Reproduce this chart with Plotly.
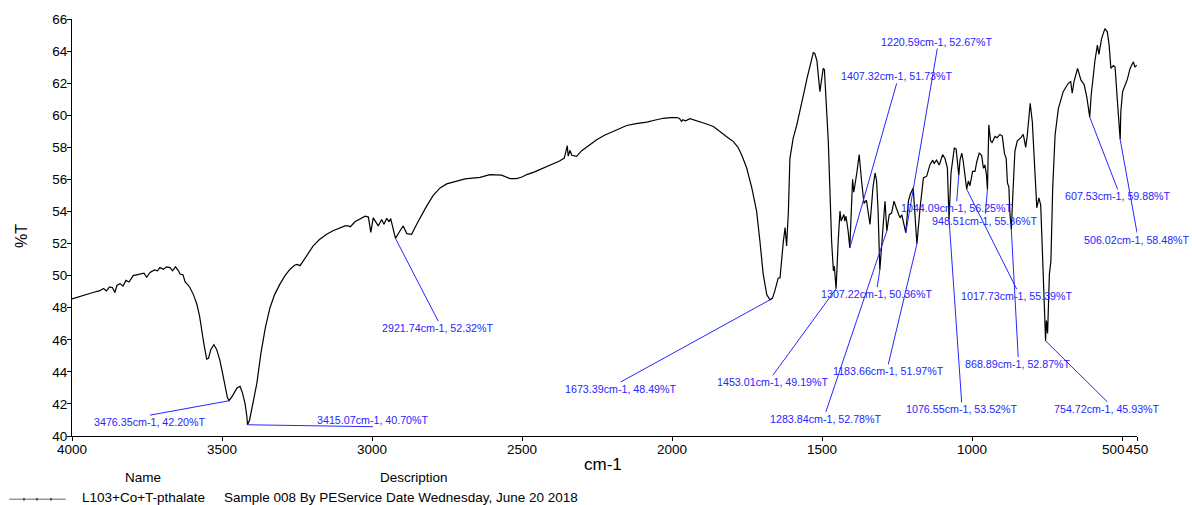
import plotly.graph_objects as go

# ---------------- data ----------------
wavenumber = [
    4000, 3960, 3930, 3907, 3895, 3885, 3875, 3865, 3857, 3850, 3840, 3830, 3820, 3810,
    3796, 3785, 3770, 3760, 3751, 3740, 3725, 3715, 3707, 3695, 3685, 3673, 3665, 3655,
    3645, 3640, 3630, 3623, 3615, 3607, 3595, 3584, 3575, 3568, 3560, 3551, 3545, 3537,
    3527, 3518, 3507, 3498, 3490, 3482, 3476.35, 3465, 3450, 3440, 3432, 3423, 3417,
    3415.07, 3408, 3398, 3384, 3370, 3355, 3340, 3325, 3307, 3290, 3273, 3258, 3250,
    3240, 3229, 3215, 3196, 3175, 3151, 3130, 3107, 3090, 3079, 3072, 3057, 3040, 3023,
    3012, 3004, 2996, 2987, 2979, 2968, 2960, 2951, 2943, 2938, 2929, 2921.74, 2907,
    2896, 2884, 2868, 2851, 2834, 2818, 2796, 2773, 2751, 2725, 2707, 2690, 2665, 2640,
    2607, 2585, 2568, 2540, 2518, 2500, 2484, 2460, 2440, 2420, 2396, 2375, 2359, 2355,
    2349, 2346, 2340, 2334, 2318, 2301, 2275, 2251, 2225, 2196, 2170, 2151, 2120, 2084,
    2055, 2029, 2005, 1984, 1975, 1968, 1964, 1955, 1940, 1925, 1907, 1885, 1862, 1845,
    1829, 1810, 1796, 1780, 1768, 1751, 1734, 1718, 1707, 1696, 1684, 1673.39, 1665,
    1657, 1646, 1640, 1629, 1623, 1618, 1612, 1607, 1601, 1596, 1584, 1568, 1557, 1550,
    1540, 1529, 1524, 1517, 1507, 1500, 1496, 1492, 1485, 1479, 1468, 1462, 1459,
    1453.01, 1446, 1440, 1436, 1427, 1424, 1420, 1413, 1407.32, 1398, 1394, 1384, 1376,
    1368, 1360, 1352, 1340, 1330, 1323, 1318, 1313, 1307.22, 1301, 1290, 1283.84, 1276,
    1268, 1260, 1252, 1245, 1240, 1234, 1228, 1220.59, 1212, 1205, 1196, 1190, 1183.66,
    1173, 1162, 1151, 1145, 1140, 1131, 1126, 1118, 1109, 1098, 1090, 1082, 1076.55,
    1070, 1059, 1053, 1048, 1044.09, 1040, 1034, 1029, 1024, 1017.73, 1012, 1007, 998,
    990, 984, 976, 968, 962, 957, 952, 948.51, 944, 938, 933, 923, 916, 907, 899, 892,
    886, 882, 877, 874, 868.89, 864, 857, 849, 837, 829, 821, 816, 810, 806, 799, 790,
    784, 777, 771, 765, 759, 754.72, 752, 748, 742, 737, 731, 723, 712, 696, 679, 671,
    666, 660, 648, 637, 626, 617, 607.53, 603, 590, 582, 577, 568, 557, 549, 543, 537,
    529, 523, 516, 506.02, 504, 498, 490, 482, 473, 462, 457, 451,
]
transmittance = [
    48.55, 48.8, 48.95, 49.06, 49.2, 49.05, 49.3, 49.25, 48.95, 49.4, 49.5, 49.35, 49.7, 49.6,
    50.0, 50.05, 50.1, 50.15, 49.9, 50.2, 50.35, 50.3, 50.5, 50.4, 50.55, 50.5, 50.3, 50.55,
    50.3, 50.1, 50.05, 49.6, 49.45, 49.26, 48.8, 48.23, 47.5, 46.58, 45.7, 44.8, 44.85, 45.4,
    45.7, 45.4, 44.72, 43.9, 43.1, 42.4, 42.20, 42.5, 43.0, 43.1, 42.7, 42.0, 41.2,
    40.70, 41.0, 42.0, 43.27, 45.2, 46.8, 48.0, 48.8, 49.47, 50.0, 50.4, 50.65, 50.7,
    50.62, 50.92, 51.35, 51.85, 52.25, 52.58, 52.8, 52.99, 53.1, 53.1, 53.05, 53.36, 53.55, 53.71,
    53.65, 52.7, 53.6, 53.35, 53.1, 53.5, 53.2, 53.57, 53.35, 53.57, 52.9, 52.32, 52.78,
    53.1, 52.62, 52.58, 53.2, 53.82, 54.33, 55.0, 55.47, 55.72, 55.85, 55.9, 56.03, 56.08, 56.13,
    56.3, 56.3, 56.26, 56.05, 56.05, 56.15, 56.3, 56.45, 56.61, 56.8, 56.96, 57.15, 57.33, 57.7,
    58.1, 57.45, 57.8, 57.5, 57.44, 57.79, 58.15, 58.47, 58.75, 58.99, 59.2, 59.36, 59.48, 59.57,
    59.7, 59.81, 59.85, 59.86, 59.8, 59.61, 59.72, 59.65, 59.78, 59.7, 59.61, 59.45, 59.3, 59.05,
    58.78, 58.55, 58.37, 58.0, 57.54, 56.71, 55.47, 54.02, 52.16, 50.09, 48.8, 48.49, 48.6,
    49.06, 49.85, 49.85, 52.1, 53.0, 51.85, 54.0, 57.3, 57.9, 58.57, 59.4, 60.64, 61.68, 62.3,
    63.13, 63.9, 63.85, 63.4, 61.47, 62.5, 62.92, 62.85, 60.5, 58.37, 52.16, 50.3, 50.6,
    49.19, 52.16, 54.02, 53.4, 53.82, 53.4, 53.7, 52.8, 51.73, 56.0, 55.2, 56.4, 57.54,
    55.88, 54.5, 54.7, 53.2, 55.5, 56.4, 55.9, 54.0, 50.36, 51.9, 54.64, 52.78, 53.8,
    53.9, 54.64, 54.2, 53.9, 53.6, 53.8, 53.2, 52.67, 54.64, 55.1, 55.47, 54.0, 51.97,
    54.23, 56.09, 56.2, 56.6, 56.92, 57.2, 57.0, 57.2, 56.9, 57.54, 57.3, 56.7, 53.52,
    56.4, 57.95, 57.9, 57.0, 56.25, 57.2, 57.64, 57.1, 56.3, 55.39, 55.9, 55.6, 56.5,
    56.5, 57.1, 57.64, 57.5, 56.7, 56.9, 56.3, 55.36, 59.4, 58.4, 58.3, 58.68, 58.6, 58.8, 58.7, 57.64,
    57.3, 55.8, 55.5, 54.0, 52.87, 55.0, 57.75, 58.4, 58.6, 58.8, 58.0, 58.7, 60.02, 60.75, 59.6, 56.3,
    54.23, 54.85, 54.4, 51.33, 47.2, 45.93, 47.2, 46.4, 50.1, 50.9, 55.47, 58.78, 60.43, 61.47, 61.99, 62.1,
    61.37, 62.1, 62.92, 62.2, 61.9, 61.1, 59.88, 61.2, 63.43, 64.37, 63.8, 64.78, 65.4, 65.2, 64.4, 62.92,
    63.1, 63.0, 61.06, 58.48, 60.2, 61.47, 61.85, 62.25, 62.92, 63.33, 63.0, 63.12,
]

peak_wn = [3476.35, 3415.07, 2921.74, 1673.39, 1453.01, 1407.32, 1220.59, 1307.22, 1283.84,
           1183.66, 1076.55, 1044.09, 948.51, 1017.73, 868.89, 754.72, 607.53, 506.02]
peak_t = [42.20, 40.70, 52.32, 48.49, 49.19, 51.73, 52.67, 50.36, 52.78,
          51.97, 53.52, 56.25, 55.36, 55.39, 52.87, 45.93, 59.88, 58.48]

x_tick_vals = [4000, 3500, 3000, 2500, 2000, 1500, 1000, 500, 450]
x_tick_text = ["4000", "3500", "3000", "2500", "2000", "1500", "1000", "", "450"]
y_tick_vals = list(range(40, 67, 2))

sample_name = "L103+Co+T-pthalate"
sample_desc = "Sample 008 By PEService Date Wednesday, June 20 2018"

# ---------------- layout helpers (label placement) ----------------
label_pos = [
    (3740, 41.30, "top"), (2996.7, 40.58, "bottom"), (2779, 47.15, "top"),
    (2171, 43.37, "top"), (1664, 43.78, "top"), (1251, 61.99, "bottom"),
    (1115.6, 64.16, "bottom"), (1316, 49.28, "top"), (1487, 41.51, "top"),
    (1279, 44.47, "top"), (1034.4, 42.09, "top"), (1051, 54.64, "top"),
    (955.6, 53.86, "top"), (851, 49.16, "top"), (846, 44.92, "top"),
    (549, 42.13, "top"), (514.4, 55.37, "top"), (450, 52.68, "top"),
]

FONT = "Liberation Sans, Arial, sans-serif"
BLUE = "#2626ff"

fig = go.Figure()
fig.add_trace(go.Scatter(x=wavenumber, y=transmittance, mode="lines",
                         line=dict(color="black", width=1.2), showlegend=False,
                         hoverinfo="skip"))

shapes = []
annotations = []
for wn, t, (lx, ly, anc) in zip(peak_wn, peak_t, label_pos):
    shapes.append(dict(type="line", xref="x", yref="y", x0=wn, y0=t, x1=lx, y1=ly,
                       line=dict(color=BLUE, width=1)))
    annotations.append(dict(xref="x", yref="y", x=lx, y=ly, xanchor="center", yanchor=anc,
                            text=f"{wn:.2f}cm-1, {t:.2f}%T", showarrow=False,
                            font=dict(family=FONT, size=10.7, color=BLUE), borderpad=0))

# "500" tick label placed just left of "450"
annotations.append(dict(xref="x", yref="paper", x=450, y=0, xanchor="right", yanchor="middle",
                        xshift=-11.3, yshift=-13, text="500", showarrow=False,
                        font=dict(family=FONT, size=13.5, color="black"), borderpad=0))
# axis titles
annotations.append(dict(xref="paper", yref="paper", x=0.4986, y=-0.0692, xanchor="center",
                        yanchor="middle", text="cm-1", showarrow=False,
                        font=dict(family=FONT, size=17, color="black")))
annotations.append(dict(xref="paper", yref="paper", x=-0.0470, y=0.4797, xanchor="center",
                        yanchor="middle", text="%T", textangle=-90, showarrow=False,
                        font=dict(family=FONT, size=16, color="black")))
# legend block
for txt, x, y, xa in [("Name", 0.0667, -0.1002, "center"),
                      ("Description", 0.3211, -0.1002, "center"),
                      (sample_name, 0.0075, -0.148, "left"),
                      (sample_desc, 0.1406, -0.148, "left")]:
    annotations.append(dict(xref="paper", yref="paper", x=x, y=y, xanchor=xa, yanchor="middle",
                            text=txt, showarrow=False,
                            font=dict(family=FONT, size=13.5, color="black")))
LEG_Y = -0.1515
shapes.append(dict(type="line", xref="paper", yref="paper", x0=-0.0589, x1=-0.0059,
                   y0=LEG_Y, y1=LEG_Y, line=dict(color="#666666", width=1)))
for xm in (-0.0451, -0.0329, -0.0197):
    shapes.append(dict(type="line", xref="paper", yref="paper", x0=xm, x1=xm,
                       y0=LEG_Y - 0.003, y1=LEG_Y + 0.003, line=dict(color="#333333", width=1.5)))

axis_common = dict(showline=True, linecolor="black", linewidth=1, ticks="outside",
                   ticklen=4, tickcolor="black", tickwidth=1, showgrid=False,
                   zeroline=False, tickfont=dict(family=FONT, size=13.5, color="black"))

fig.update_layout(
    width=1192, height=505,
    margin=dict(l=72, r=55, t=17, b=69),
    paper_bgcolor="white", plot_bgcolor="white",
    xaxis=dict(range=[4000, 450], tickmode="array", tickvals=x_tick_vals,
               ticktext=x_tick_text, ticklabelstandoff=-3, **axis_common),
    yaxis=dict(range=[40, 66], tickmode="array", tickvals=y_tick_vals,
               ticklabelstandoff=-3, **axis_common),
    shapes=shapes, annotations=annotations,
)

fig.write_html("out.html", config={"displayModeBar": False},
               post_script="document.body.style.margin='0';document.body.style.padding='0';")
